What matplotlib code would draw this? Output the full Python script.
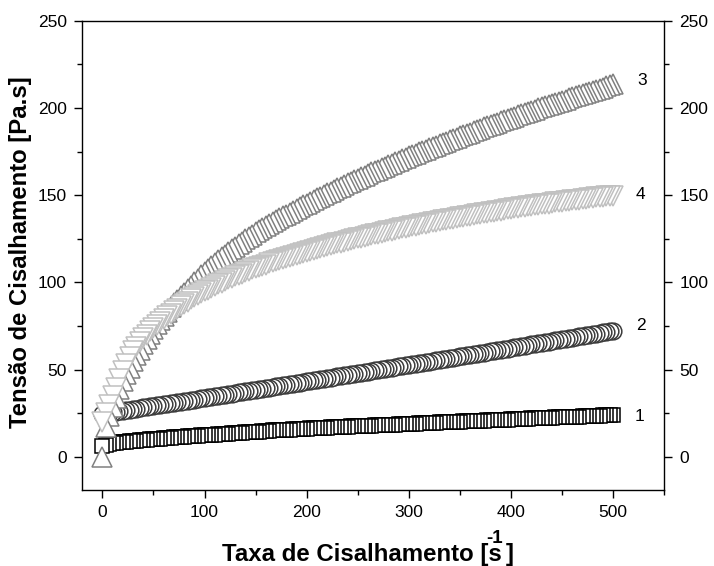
import matplotlib
matplotlib.use('Agg')
import matplotlib.pyplot as plt
from matplotlib.ticker import MultipleLocator

plt.rcParams['font.family'] = ['Liberation Sans', 'DejaVu Sans']

# taxa de cisalhamento [1/s], passo de ~3,3 s-1
taxa = [
    0, 3.3, 6.7, 10, 13.3, 16.7, 20, 23.3, 26.7, 30, 33.3, 36.7,
    40, 43.3, 46.7, 50, 53.3, 56.7, 60, 63.3, 66.7, 70, 73.3, 76.7,
    80, 83.3, 86.7, 90, 93.3, 96.7, 100, 103.3, 106.7, 110, 113.3, 116.7,
    120, 123.3, 126.7, 130, 133.3, 136.7, 140, 143.3, 146.7, 150, 153.3, 156.7,
    160, 163.3, 166.7, 170, 173.3, 176.7, 180, 183.3, 186.7, 190, 193.3, 196.7,
    200, 203.3, 206.7, 210, 213.3, 216.7, 220, 223.3, 226.7, 230, 233.3, 236.7,
    240, 243.3, 246.7, 250, 253.3, 256.7, 260, 263.3, 266.7, 270, 273.3, 276.7,
    280, 283.3, 286.7, 290, 293.3, 296.7, 300, 303.3, 306.7, 310, 313.3, 316.7,
    320, 323.3, 326.7, 330, 333.3, 336.7, 340, 343.3, 346.7, 350, 353.3, 356.7,
    360, 363.3, 366.7, 370, 373.3, 376.7, 380, 383.3, 386.7, 390, 393.3, 396.7,
    400, 403.3, 406.7, 410, 413.3, 416.7, 420, 423.3, 426.7, 430, 433.3, 436.7,
    440, 443.3, 446.7, 450, 453.3, 456.7, 460, 463.3, 466.7, 470, 473.3, 476.7,
    480, 483.3, 486.7, 490, 493.3, 496.7, 500,
]

tensao_1 = [
    6.3, 7.0, 7.5, 7.8, 8.0, 8.3, 8.5, 8.7, 8.9, 9.1, 9.3, 9.5,
    9.7, 9.9, 10.0, 10.2, 10.4, 10.5, 10.7, 10.9, 11.0, 11.2, 11.3, 11.5,
    11.6, 11.7, 11.9, 12.0, 12.1, 12.3, 12.4, 12.5, 12.7, 12.8, 12.9, 13.1,
    13.2, 13.3, 13.5, 13.6, 13.7, 13.9, 14.0, 14.1, 14.3, 14.4, 14.5, 14.7,
    14.8, 14.9, 15.1, 15.2, 15.3, 15.4, 15.5, 15.6, 15.8, 15.9, 16.0, 16.1,
    16.2, 16.3, 16.4, 16.5, 16.6, 16.7, 16.8, 16.9, 16.9, 17.0, 17.1, 17.2,
    17.3, 17.4, 17.5, 17.6, 17.7, 17.7, 17.8, 17.9, 18.0, 18.1, 18.2, 18.3,
    18.4, 18.5, 18.5, 18.6, 18.7, 18.8, 18.9, 19.0, 19.1, 19.2, 19.3, 19.3,
    19.4, 19.5, 19.6, 19.7, 19.8, 19.8, 19.9, 20.0, 20.1, 20.2, 20.3, 20.3,
    20.4, 20.5, 20.6, 20.7, 20.8, 20.9, 21.0, 21.1, 21.1, 21.2, 21.3, 21.4,
    21.5, 21.6, 21.6, 21.7, 21.8, 21.9, 22.0, 22.1, 22.1, 22.2, 22.3, 22.4,
    22.5, 22.6, 22.6, 22.7, 22.8, 22.9, 23.0, 23.1, 23.1, 23.2, 23.3, 23.4,
    23.5, 23.6, 23.6, 23.7, 23.8, 23.9, 24.0,
]

tensao_2 = [
    24.5, 24.8, 25.2, 25.5, 25.8, 26.2, 26.5, 26.8, 27.1, 27.4, 27.7, 28.0,
    28.3, 28.6, 28.9, 29.2, 29.5, 29.8, 30.1, 30.4, 30.7, 31.0, 31.3, 31.6,
    31.9, 32.2, 32.5, 32.8, 33.1, 33.5, 33.8, 34.1, 34.4, 34.7, 35.0, 35.4,
    35.7, 36.0, 36.3, 36.6, 36.9, 37.3, 37.6, 37.9, 38.2, 38.5, 38.8, 39.1,
    39.4, 39.7, 40.1, 40.4, 40.7, 41.0, 41.3, 41.6, 42.0, 42.3, 42.6, 42.9,
    43.2, 43.5, 43.9, 44.2, 44.5, 44.8, 45.1, 45.4, 45.8, 46.1, 46.4, 46.7,
    47.0, 47.3, 47.7, 48.0, 48.3, 48.6, 48.9, 49.2, 49.6, 49.9, 50.2, 50.5,
    50.8, 51.1, 51.5, 51.8, 52.1, 52.4, 52.7, 53.0, 53.4, 53.7, 54.0, 54.3,
    54.6, 54.9, 55.3, 55.6, 55.9, 56.3, 56.6, 56.9, 57.3, 57.6, 57.9, 58.2,
    58.5, 58.8, 59.2, 59.5, 59.8, 60.2, 60.5, 60.8, 61.2, 61.5, 61.8, 62.1,
    62.4, 62.7, 63.1, 63.4, 63.7, 64.1, 64.4, 64.7, 65.1, 65.4, 65.7, 66.1,
    66.4, 66.7, 67.1, 67.4, 67.7, 68.1, 68.4, 68.7, 69.1, 69.4, 69.7, 70.1,
    70.4, 70.7, 71.1, 71.4, 71.7, 72.1, 72.4,
]

tensao_3 = [
    0.0, 17.0, 23.5, 28.5, 34.0, 39.0, 43.5, 47.5, 51.2, 54.8, 58.2, 61.5,
    64.6, 67.6, 70.5, 73.3, 76.0, 78.5, 81.0, 83.3, 85.7, 88.0, 90.0, 92.0,
    94.0, 96.0, 98.0, 100.0, 102.0, 104.0, 106.0, 107.7, 109.4, 111.1, 112.7, 114.3,
    115.9, 117.4, 118.9, 120.4, 121.8, 123.2, 124.6, 125.9, 127.3, 128.6, 129.8, 131.0,
    132.2, 133.3, 134.5, 135.6, 136.7, 137.8, 138.9, 140.0, 141.0, 142.1, 143.1, 144.2,
    145.2, 146.2, 147.2, 148.2, 149.2, 150.1, 151.1, 152.1, 153.0, 154.0, 154.9, 155.9,
    156.8, 157.7, 158.6, 159.5, 160.4, 161.2, 162.1, 163.0, 163.8, 164.7, 165.6, 166.4,
    167.3, 168.1, 168.9, 169.7, 170.5, 171.4, 172.2, 173.0, 173.8, 174.6, 175.4, 176.1,
    176.9, 177.7, 178.4, 179.2, 180.0, 180.7, 181.5, 182.2, 183.0, 183.7, 184.4, 185.2,
    185.9, 186.6, 187.4, 188.1, 188.8, 189.5, 190.2, 190.9, 191.6, 192.3, 193.0, 193.6,
    194.3, 195.0, 195.7, 196.4, 197.1, 197.7, 198.4, 199.1, 199.7, 200.4, 201.0, 201.7,
    202.3, 202.9, 203.6, 204.2, 204.8, 205.5, 206.1, 206.7, 207.4, 208.0, 208.6, 209.3,
    209.9, 210.5, 211.1, 211.7, 212.3, 212.9, 213.5,
]

tensao_4 = [
    20.0, 25.0, 30.0, 35.0, 39.7, 44.4, 49.0, 53.0, 57.0, 60.5, 63.2, 65.7,
    68.0, 70.1, 72.1, 74.0, 75.7, 77.4, 79.0, 80.6, 82.1, 83.6, 85.0, 86.4,
    87.7, 89.0, 90.2, 91.4, 92.6, 93.7, 94.8, 95.9, 96.9, 97.9, 98.9, 99.9,
    100.8, 101.7, 102.6, 103.4, 104.2, 105.0, 105.8, 106.6, 107.4, 108.1, 108.8, 109.5,
    110.2, 110.9, 111.5, 112.2, 112.8, 113.5, 114.1, 114.7, 115.3, 115.9, 116.5, 117.0,
    117.6, 118.1, 118.7, 119.2, 119.7, 120.3, 120.8, 121.3, 121.8, 122.3, 122.8, 123.3,
    123.8, 124.3, 124.7, 125.2, 125.7, 126.1, 126.6, 127.1, 127.5, 128.0, 128.4, 128.9,
    129.3, 129.7, 130.1, 130.5, 130.9, 131.3, 131.7, 132.1, 132.5, 132.9, 133.3, 133.7,
    134.1, 134.5, 134.8, 135.2, 135.6, 135.9, 136.3, 136.6, 137.0, 137.3, 137.6, 138.0,
    138.3, 138.6, 139.0, 139.3, 139.6, 140.0, 140.3, 140.6, 140.9, 141.2, 141.5, 141.9,
    142.2, 142.5, 142.7, 143.0, 143.3, 143.6, 143.9, 144.2, 144.4, 144.7, 145.0, 145.2,
    145.5, 145.8, 146.0, 146.3, 146.5, 146.8, 147.0, 147.3, 147.5, 147.8, 148.0, 148.3,
    148.5, 148.7, 149.0, 149.2, 149.4, 149.6, 149.8,
]

rotulos = ['1', '2', '3', '4']
rotulo_x = [521, 522, 524, 522]
rotulo_y = [23.3, 75.3, 215.8, 150.4]


def plot_curvas():
    fig = plt.figure(figsize=(7.14, 5.66), dpi=100)
    ax = fig.add_axes([0.1148, 0.1343, 0.8156, 0.8291])

    series = [
        (tensao_1, 's', 'black', 10.5),
        (tensao_2, 'o', '#3c3c3c', 12),
        (tensao_3, '^', '#808080', 15),
        (tensao_4, 'v', '#c0c0c0', 15),
    ]
    for y, mk, cor, ms in series:
        # desenha da direita para a esquerda (rampa descendente)
        ax.plot(taxa[::-1], y[::-1], linestyle='none', marker=mk, markersize=ms,
                markerfacecolor='white', markeredgecolor=cor, markeredgewidth=1.1)

    for txt, xx, yy in zip(rotulos, rotulo_x, rotulo_y):
        ax.text(xx, yy, txt, fontsize=12.5, ha='left', va='center')

    ax.set_xlim(-20, 550)
    ax.set_ylim(-19, 250)
    ax.xaxis.set_major_locator(MultipleLocator(100))
    ax.xaxis.set_minor_locator(MultipleLocator(50))
    ax.yaxis.set_major_locator(MultipleLocator(50))
    ax.yaxis.set_minor_locator(MultipleLocator(25))
    ax.tick_params(which='both', direction='out', width=1.0, labelsize=12.5,
                   right=True, labelright=True, top=False, pad=5)
    ax.tick_params(which='major', length=6)
    ax.tick_params(which='minor', length=3.5)
    for sp in ax.spines.values():
        sp.set_linewidth(1.0)

    fig.text(21 / 714, 1 - 252 / 566, 'Tensão de Cisalhamento [Pa.s]',
             rotation=90, ha='center', va='center', fontsize=17.2, fontweight='bold')

    # rótulo do eixo x com o expoente -1 montado à parte
    base = 1 - 561.5 / 566
    x0 = 221.7
    t1 = fig.text(x0 / 714, base, 'Taxa de Cisalhamento [s',
                  ha='left', va='baseline', fontsize=17, fontweight='bold')
    fig.canvas.draw()
    largura = t1.get_window_extent().width
    t1.set_fontsize(17 * 280 / largura)
    fig.canvas.draw()
    x1 = t1.get_window_extent().x1
    fig.text((x1 - 15) / 714, 1 - 543 / 566, '-1',
             ha='left', va='baseline', fontsize=13.5, fontweight='bold')
    fig.text((x1 + 4) / 714, base, ']',
             ha='left', va='baseline', fontsize=t1.get_fontsize(), fontweight='bold')

    fig.savefig('out.png', dpi=100)


if __name__ == "__main__":
    plot_curvas()
